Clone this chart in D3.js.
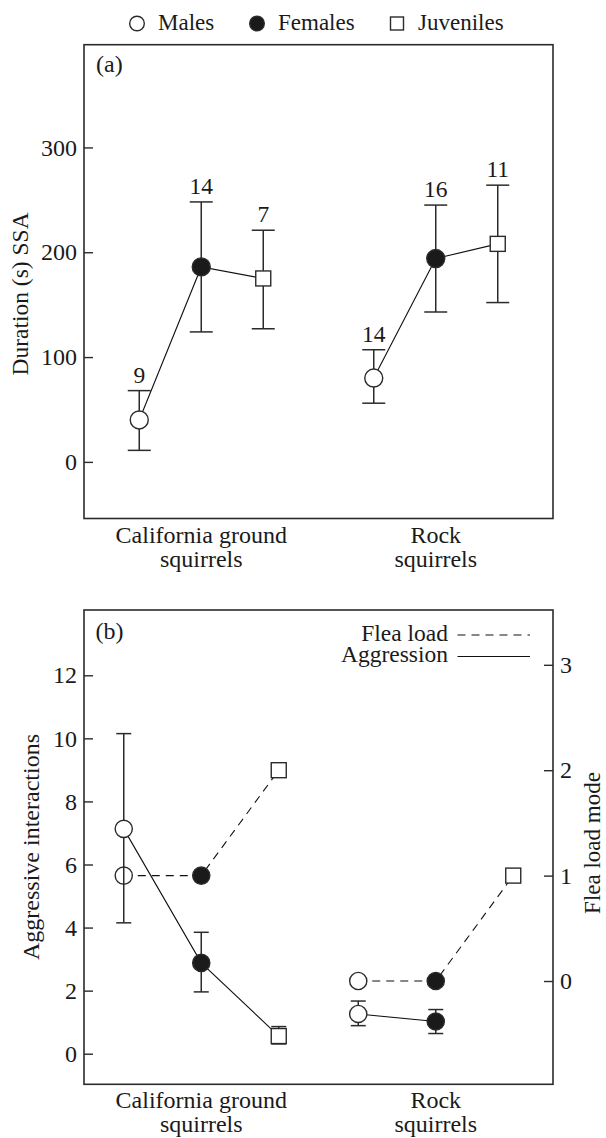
<!DOCTYPE html>
<html>
<head>
<meta charset="utf-8">
<script src="https://cdn.jsdelivr.net/npm/d3@7"></script>
<style>
  body { margin: 0; background: #fff; }
</style>
</head>
<body>
<script>
// groups of squirrels and the three classes of animal
const groups = ["California ground squirrels", "Rock squirrels"];
const groupLines = [["California ground", "squirrels"], ["Rock", "squirrels"]];
const classes = ["Males", "Females", "Juveniles"];

// (a) duration of SSA: mean, error bar ends, sample sizes
const ssaMean = [[40, 186, 175], [80, 194, 208]];
const ssaLow  = [[11, 124, 127], [56, 143, 152]];
const ssaHigh = [[68, 248, 221], [107, 245, 264]];
const ssaN    = [[9, 14, 7], [14, 16, 11]];
const ssaTicks = [0, 100, 200, 300];

// (b) aggressive interactions (left axis) and flea load mode (right axis)
const aggrMean = [[7.13, 2.88, 0.56], [1.26, 1.02, null]];
const aggrLow  = [[4.15, 1.96, 0.31], [0.89, 0.64, null]];
const aggrHigh = [[10.15, 3.85, 0.86], [1.67, 1.40, null]];
const fleaMode = [[1, 1, 2], [0, 0, 1]];
const aggrTicks = [0, 2, 4, 6, 8, 10, 12];
const fleaTicks = [0, 1, 2, 3];

// flatten a [group][class] table into records
function rows(mean, low, high, n) {
  const out = [];
  groups.forEach((g, gi) => classes.forEach((c, ci) => {
    if (mean[gi][ci] == null) return;
    out.push({group: g, cls: c, v: mean[gi][ci],
      lo: low ? low[gi][ci] : null, hi: high ? high[gi][ci] : null,
      n: n ? n[gi][ci] : null});
  }));
  return out;
}

const W = 606, H = 1138;
const ink = "#2b2b2b";
const fontSize = 24;
const serif = "'Liberation Serif', Tinos, 'Times New Roman', serif";

const svg = d3.select("body").append("svg")
  .attr("width", W).attr("height", H);

// shared x: one point per group, classes spread round it
const x = d3.scalePoint().domain(groups).range([84, 553]).padding(0.5);

// top legend
const legendX = [137, 257, 397];
classes.forEach((c, i) => {
  const g = svg.append("g").attr("transform", "translate(" + legendX[i] + ",23.5)");
  drawMarker(g, c, 7.3, 13);
  g.append("text").attr("x", 21).attr("y", 6)
    .style("font-size", "23px").text(c);
});

function drawMarker(sel, cls, r, side) {
  if (cls == "Juveniles") {
    sel.append("rect")
      .attr("x", -side / 2).attr("y", -side / 2)
      .attr("width", side).attr("height", side)
      .attr("fill", "#fff").attr("stroke", ink).attr("stroke-width", 1.4);
  } else {
    sel.append("circle").attr("r", r)
      .attr("fill", cls == "Females" ? "#1a1a1a" : "#fff")
      .attr("stroke", ink).attr("stroke-width", 1.4);
  }
}

function frame(top, bottom) {
  svg.append("rect")
    .attr("x", 84).attr("y", top)
    .attr("width", 553 - 84).attr("height", bottom - top)
    .attr("fill", "none").attr("stroke", ink).attr("stroke-width", 1.6);
}

function styleAxis(g) {
  g.select(".domain").remove();
  g.attr("font-family", null).attr("font-size", null);
  g.selectAll(".tick line").attr("stroke", ink).attr("stroke-width", 1.4);
  g.selectAll(".tick text").attr("fill", "#1a1a1a")
    .style("font-size", fontSize + "px");
}

function groupLabels(baseline) {
  groups.forEach((g, gi) => {
    groupLines[gi].forEach((line, li) => {
      svg.append("text")
        .attr("x", x(g)).attr("y", baseline + li * 24)
        .attr("text-anchor", "middle")
        .style("font-size", fontSize + "px").text(line);
    });
  });
}

function drawSeries(data, y, off, opts) {
  const px = d => x(d.group) + off(d.cls);
  const line = d3.line().x(px).y(d => y(d.v));
  const layer = svg.append("g");

  // error bars first so markers cover them
  if (opts.bars) {
    const bars = layer.selectAll(".bar").data(data.filter(d => d.lo != null))
      .enter().append("g").attr("stroke", ink).attr("stroke-width", 1.5);
    bars.append("line").attr("x1", px).attr("x2", px)
      .attr("y1", d => y(d.lo)).attr("y2", d => y(d.hi));
    bars.append("line").attr("x1", d => px(d) - opts.cap).attr("x2", d => px(d) + opts.cap)
      .attr("y1", d => y(d.hi)).attr("y2", d => y(d.hi));
    bars.append("line").attr("x1", d => px(d) - opts.cap).attr("x2", d => px(d) + opts.cap)
      .attr("y1", d => y(d.lo)).attr("y2", d => y(d.lo));
  }

  groups.forEach(g => {
    layer.append("path")
      .datum(data.filter(d => d.group == g))
      .attr("fill", "none").attr("stroke", "#111").attr("stroke-width", 1.1)
      .attr("stroke-dasharray", opts.dash || null)
      .attr("d", line);
  });

  data.forEach(d => {
    const m = layer.append("g")
      .attr("transform", "translate(" + px(d) + "," + y(d.v) + ")");
    drawMarker(m, d.cls, opts.r, opts.side);
  });

  if (opts.counts) {
    layer.selectAll(".n").data(data).enter().append("text")
      .attr("x", px).attr("y", d => y(d.hi) - 8)
      .attr("text-anchor", "middle")
      .style("font-size", "23.5px").text(d => d.n);
  }
}

// ---------- panel (a) ----------
const yA = d3.scaleLinear().domain([-54, 398]).range([518.5, 44.7]);
const offA = d3.scalePoint().domain(classes).range([-62, 62]);

svg.append("g").attr("transform", "translate(84,0)")
  .call(d3.axisLeft(yA).tickValues(ssaTicks).tickSizeInner(-9).tickSizeOuter(0).tickPadding(7))
  .call(styleAxis);

drawSeries(rows(ssaMean, ssaLow, ssaHigh, ssaN), yA, offA,
  {bars: true, cap: 11.5, r: 9, side: 15, counts: true});
frame(44.7, 518.5);

svg.append("text").attr("x", 96).attr("y", 71.5)
  .style("font-size", fontSize + "px").text("(a)");
svg.append("text")
  .attr("transform", "translate(28,294) rotate(-90)")
  .attr("text-anchor", "middle")
  .style("font-size", "23.5px").text("Duration (s) SSA");
groupLabels(543);

// ---------- panel (b) ----------
const yB = d3.scaleLinear().domain([-0.97, 14.07]).range([1084.3, 610]);
const yF = d3.scaleLinear().domain([-0.98, 3.52]).range([1084.3, 610]);
const offB = d3.scalePoint().domain(classes).range([-77.5, 77.5]);

svg.append("g").attr("transform", "translate(84,0)")
  .call(d3.axisLeft(yB).tickValues(aggrTicks).tickSizeInner(-9).tickSizeOuter(0).tickPadding(7))
  .call(styleAxis);
svg.append("g").attr("transform", "translate(553,0)")
  .call(d3.axisRight(yF).tickValues(fleaTicks).tickFormat(d3.format("d"))
    .tickSizeInner(-9).tickSizeOuter(0).tickPadding(7))
  .call(styleAxis);

drawSeries(rows(fleaMode), yF, offB, {dash: "8,6", r: 8.6, side: 15});
drawSeries(rows(aggrMean, aggrLow, aggrHigh), yB, offB, {bars: true, cap: 7.5, r: 8.6, side: 15});
frame(610, 1084.3);

svg.append("text").attr("x", 95.5).attr("y", 639)
  .style("font-size", fontSize + "px").text("(b)");

// line key for panel (b)
const keys = [["Flea load", "8,6", 640.5], ["Aggression", null, 662]];
keys.forEach(k => {
  svg.append("text").attr("x", 448).attr("y", k[2])
    .attr("text-anchor", "end")
    .style("font-size", "23.5px").text(k[0]);
  svg.append("line")
    .attr("x1", 457.5).attr("x2", 530)
    .attr("y1", k[2] - 5.5).attr("y2", k[2] - 5.5)
    .attr("stroke", "#111").attr("stroke-width", 1.1)
    .attr("stroke-dasharray", k[1]);
});

svg.append("text")
  .attr("transform", "translate(38.5,847) rotate(-90)")
  .attr("text-anchor", "middle")
  .style("font-size", fontSize + "px").text("Aggressive interactions");
svg.append("text")
  .attr("transform", "translate(600,843) rotate(-90)")
  .attr("text-anchor", "middle")
  .style("font-size", "23px").text("Flea load mode");
groupLabels(1107.5);

// every text in the serif face
svg.selectAll("text").style("font-family", serif).attr("fill", "#1a1a1a");
</script>
</body>
</html>
